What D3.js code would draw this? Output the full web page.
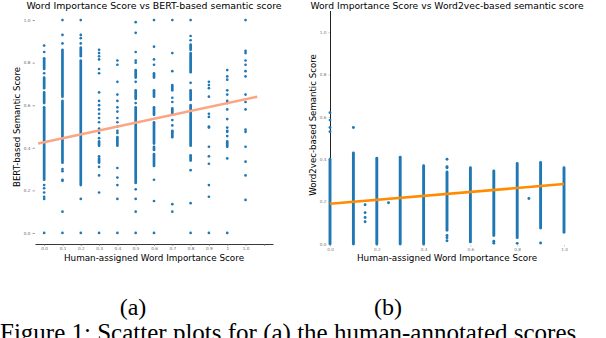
<!DOCTYPE html>
<html>
<head>
<meta charset="utf-8">
<script src="https://cdn.jsdelivr.net/npm/d3@7"></script>
<style>
  body { margin: 0; background: #fff; }
  svg { display: block; }
</style>
</head>
<body>
<main></main>
<script>
// (a) BERT plot: x is categorical, 12 columns + 1 empty tick
const bertLabels = ["0.0", "0.1", "0.2", "0.3", "0.4", "0.5", "0.6", "0.7", "0.8", "0.9", "1", "1.0", ""];
// single points per column
const bertPoints = [
  [0.88, 0.85, 0.75, 0.225, 0.21, 0.19, 0.17, 0.16, 0.0],
  [1.0, 0.93, 0.89, 0.30, 0.29, 0.25, 0.245, 0.10, 0.0],
  [1.0, 0.93, 0.915, 0.89, 0.16, 0.0],
  [0.86, 0.845, 0.83, 0.815, 0.77, 0.75, 0.66, 0.62, 0.60, 0.58, 0.56, 0.54, 0.52, 0.49, 0.47, 0.445, 0.36, 0.31, 0.27, 0.19, 0.0],
  [0.81, 0.79, 0.71, 0.65, 0.62, 0.59, 0.57, 0.54, 0.52, 0.50, 0.48, 0.47, 0.305, 0.26, 0.225, 0.16, 0.0],
  [0.99, 0.94, 0.85, 0.81, 0.80, 0.71, 0.61, 0.205, 0.16, 0.10, 0.0],
  [1.0, 0.875, 0.815, 0.79, 0.25, 0.15, 0.0],
  [1.0, 0.845, 0.76, 0.635, 0.615, 0.53, 0.505, 0.475, 0.135, 0.10],
  [1.0, 0.925, 0.905, 0.705, 0.295, 0.14, 0.0],
  [0.71, 0.695, 0.68, 0.64, 0.56, 0.545, 0.50, 0.495, 0.405, 0.36, 0.325, 0.225, 0.17, 0.0],
  [0.765, 0.735, 0.72, 0.67, 0.65, 0.62, 0.61, 0.58, 0.535, 0.495, 0.48, 0.475, 0.455, 0.35, 0.0],
  [1.0, 0.855, 0.845, 0.81, 0.79, 0.76, 0.735, 0.65, 0.615, 0.58, 0.485, 0.475, 0.405, 0.335, 0.27, 0.155]
];
// dense runs of overlapping points [low, high] per column
const bertRuns = [
  [[0.77, 0.82], [0.68, 0.73], [0.61, 0.66], [0.25, 0.59]],
  [[0.64, 0.86], [0.33, 0.62]],
  [[0.83, 0.87], [0.225, 0.81]],
  [[0.41, 0.43], [0.33, 0.35]],
  [[0.41, 0.45]],
  [[0.73, 0.765], [0.63, 0.67], [0.235, 0.59]],
  [[0.73, 0.75], [0.64, 0.67], [0.555, 0.59], [0.42, 0.52], [0.39, 0.405], [0.315, 0.37]],
  [[0.67, 0.695], [0.56, 0.585], [0.45, 0.48]],
  [[0.86, 0.885], [0.755, 0.845], [0.625, 0.67], [0.41, 0.60], [0.34, 0.365]],
  [],
  [[0.405, 0.43]],
  []
];
const bertFitX = [-0.33, 11.64];
const bertFitY = [0.42, 0.64];
const bertYTicks = [0.0, 0.2, 0.4, 0.6, 0.8, 1.0];

// (b) Word2vec plot
const w2vX = [0.0, 0.1, 0.15, 0.2, 0.25, 0.3, 0.4, 0.5, 0.6, 0.7, 0.8, 0.85, 0.9, 1.0];
const w2vPoints = [
  [0.62, 0.585, 0.55, 0.53],
  [0.55],
  [0.185, 0.148, 0.125, 0.105],
  [],
  [0.195],
  [],
  [],
  [0.40, 0.365, 0.36, 0.04, 0.03, 0.015],
  [],
  [0.013, 0.004],
  [0.003],
  [0.215],
  [0.005],
  []
];
const w2vRuns = [
  [[0.0, 0.40]],
  [[0.0, 0.43]],
  [],
  [[0.0, 0.405]],
  [],
  [[0.0, 0.41]],
  [[0.0, 0.37]],
  [[0.065, 0.34]],
  [[0.01, 0.36]],
  [[0.04, 0.345]],
  [[0.03, 0.38]],
  [],
  [[0.075, 0.385]],
  [[0.055, 0.36]]
];
const w2vFitX = [0.0, 1.0];
const w2vFitY = [0.19, 0.283];
const w2vXTicks = [0.0, 0.2, 0.4, 0.6, 0.8, 1.0];
const w2vYTicks = [0.0, 0.2, 0.4, 0.6, 0.8, 1.0];

const w = 606, h = 338;
const blue = "#1f77b4";
const r = 1.35;

const svg = d3.select("main").append("svg")
  .attr("width", w)
  .attr("height", h)
  .style("font-family", "'DejaVu Sans', sans-serif");

// ---------- (a) ----------
const xA = d3.scaleLinear().domain([-0.5, 12.5]).range([35, 273]);
const yA = d3.scaleLinear().domain([-0.05, 1.05]).range([243.6, 9.4]);

const gA = svg.append("g");

bertRuns.forEach((runs, i) => {
  gA.selectAll(null).data(runs).enter().append("rect")
    .attr("x", xA(i) - r)
    .attr("width", 2 * r)
    .attr("y", d => yA(d[1]) - r)
    .attr("height", d => yA(d[0]) - yA(d[1]) + 2 * r)
    .attr("rx", r)
    .attr("fill", blue);
});
bertPoints.forEach((pts, i) => {
  gA.selectAll(null).data(pts).enter().append("circle")
    .attr("cx", xA(i))
    .attr("cy", d => yA(d))
    .attr("r", r)
    .attr("fill", blue);
});

gA.append("line")
  .attr("x1", xA(bertFitX[0])).attr("y1", yA(bertFitY[0]))
  .attr("x2", xA(bertFitX[1])).attr("y2", yA(bertFitY[1]))
  .attr("stroke", "#fca583")
  .attr("stroke-width", 2.6);

const axA = gA.append("g")
  .attr("transform", "translate(0,244)")
  .call(d3.axisBottom(xA).tickValues(d3.range(13)).tickFormat(i => bertLabels[i]).tickSize(2).tickPadding(1.5).tickSizeOuter(0));
axA.select(".domain").attr("stroke", "#222").attr("stroke-width", 0.9);

const ayA = gA.append("g")
  .attr("transform", "translate(35,0)")
  .call(d3.axisLeft(yA).tickValues(bertYTicks).tickFormat(d3.format(".1f")).tickSize(2.5).tickPadding(2));
ayA.select(".domain").remove();

[axA, ayA].forEach(a => {
  a.selectAll("text").attr("font-size", 4.2).attr("fill", "#666").attr("font-family", "'DejaVu Sans', sans-serif");
  a.selectAll(".tick line").attr("stroke", "#666").attr("stroke-width", 0.6);
});

gA.append("text")
  .attr("x", 154).attr("y", 8.5)
  .attr("text-anchor", "middle")
  .attr("font-size", 9.4)
  .text("Word Importance Score vs BERT-based semantic score");
gA.append("text")
  .attr("x", 154).attr("y", 261)
  .attr("text-anchor", "middle")
  .attr("font-size", 8.8)
  .text("Human-assigned Word Importance Score");
gA.append("text")
  .attr("transform", "translate(20,127) rotate(-90)")
  .attr("text-anchor", "middle")
  .attr("font-size", 8.6)
  .text("BERT-based Semantic Score");

// ---------- (b) ----------
const xB = d3.scaleLinear().domain([0, 1]).range([330, 564]);
const yB = d3.scaleLinear().domain([0, 1.1]).range([244, 11]);

const gB = svg.append("g");

gB.append("line")
  .attr("x1", 330.5).attr("x2", 330.5)
  .attr("y1", yB(1.1)).attr("y2", yB(0) + 1)
  .attr("stroke", "#222").attr("stroke-width", 1);

const rb = 1.45;
w2vRuns.forEach((runs, i) => {
  gB.selectAll(null).data(runs).enter().append("rect")
    .attr("x", xB(w2vX[i]) - rb)
    .attr("width", 2 * rb)
    .attr("y", d => yB(d[1]) - rb)
    .attr("height", d => yB(d[0]) - yB(d[1]) + 2 * rb)
    .attr("rx", rb)
    .attr("fill", blue);
});
w2vPoints.forEach((pts, i) => {
  gB.selectAll(null).data(pts).enter().append("circle")
    .attr("cx", xB(w2vX[i]))
    .attr("cy", d => yB(d))
    .attr("r", rb)
    .attr("fill", blue);
});

gB.append("line")
  .attr("x1", xB(w2vFitX[0])).attr("y1", yB(w2vFitY[0]))
  .attr("x2", xB(w2vFitX[1])).attr("y2", yB(w2vFitY[1]))
  .attr("stroke", "#ff8c00")
  .attr("stroke-width", 2.6);

const axB = gB.append("g")
  .attr("transform", "translate(0,245)")
  .call(d3.axisBottom(xB).tickValues(w2vXTicks).tickFormat(d3.format(".1f")).tickSize(1.5).tickPadding(1.5));
axB.select(".domain").remove();

const ayB = gB.append("g")
  .attr("transform", "translate(330,0)")
  .call(d3.axisLeft(yB).tickValues(w2vYTicks).tickFormat(d3.format(".1f")).tickSize(1.5).tickPadding(2));
ayB.select(".domain").remove();

[axB, ayB].forEach(a => {
  a.selectAll("text").attr("font-size", 4.2).attr("fill", "#777").attr("font-family", "'DejaVu Sans', sans-serif");
  a.selectAll(".tick line").attr("stroke", "#999").attr("stroke-width", 0.5);
});

gB.append("text")
  .attr("x", 447).attr("y", 8.5)
  .attr("text-anchor", "middle")
  .attr("font-size", 9.2)
  .text("Word Importance Score vs Word2vec-based semantic score");
gB.append("text")
  .attr("x", 447).attr("y", 261)
  .attr("text-anchor", "middle")
  .attr("font-size", 8.8)
  .text("Human-assigned Word Importance Score");
gB.append("text")
  .attr("transform", "translate(316,125) rotate(-90)")
  .attr("text-anchor", "middle")
  .attr("font-size", 8.6)
  .text("Word2vec-based Semantic Score");

// ---------- caption ----------
const cap = svg.append("g").style("font-family", "'Liberation Serif', 'Times New Roman', serif");
cap.append("text").attr("x", 133).attr("y", 315).attr("text-anchor", "middle").attr("font-size", 24).text("(a)");
cap.append("text").attr("x", 388).attr("y", 315).attr("text-anchor", "middle").attr("font-size", 24).text("(b)");
cap.append("text").attr("x", 0).attr("y", 341).attr("font-size", 25)
  .text("Figure 1: Scatter plots for (a) the human-annotated scores");
</script>
</body>
</html>
